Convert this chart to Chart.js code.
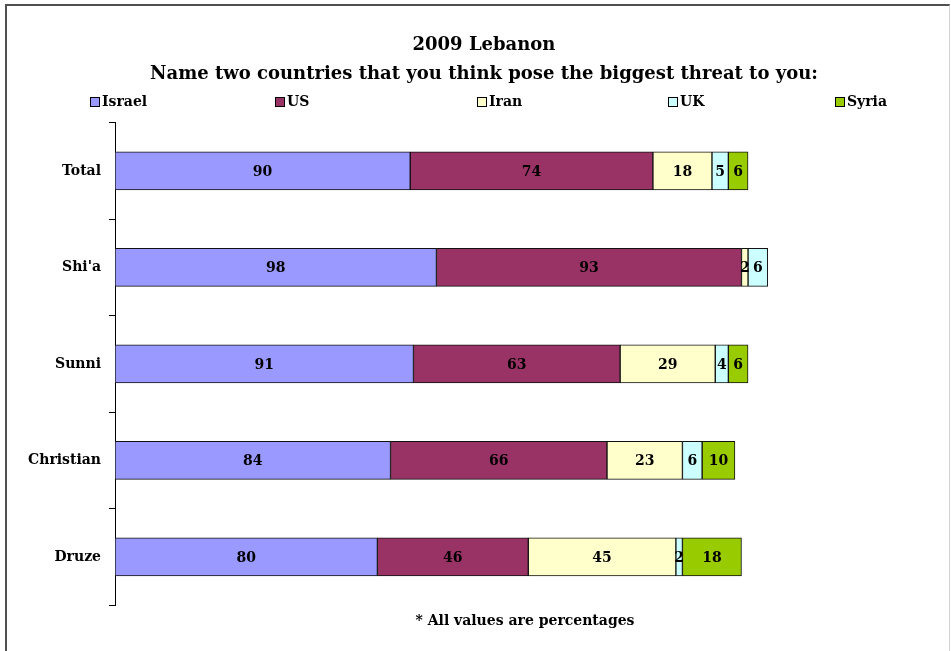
<!DOCTYPE html>
<html>
<head>
<meta charset="utf-8">
<script src="https://cdn.jsdelivr.net/npm/chart.js@4.4.1/dist/chart.umd.min.js"></script>
<style>
  body { margin: 0; background: #fff; }
  #frame {
    position: absolute; left: 5px; top: 4px;
    width: 942px; height: 647px;
    border-top: 2px solid #505050;
    border-left: 2px solid #505050;
    border-right: 1px solid #d2d2d2;
  }
  canvas { display: block; }
</style>
</head>
<body>
<div id="frame"><canvas id="threatChart" width="942" height="645"></canvas></div>
<script>
const groups = ["Total", "Shi'a", "Sunni", "Christian", "Druze"];
const israel = [90, 98, 91, 84, 80];
const us     = [74, 93, 63, 66, 46];
const iran   = [18, 2, 29, 23, 45];
const uk     = [5, 6, 4, 6, 2];
const syria  = [6, 0, 6, 10, 18];

const FONT = "'DejaVu Serif', 'Liberation Serif', serif";

// value text in the middle of each bar segment
const valueLabels = {
  id: 'valueLabels',
  afterDatasetsDraw(chart) {
    const ctx = chart.ctx;
    ctx.save();
    ctx.font = "bold 14px " + FONT;
    ctx.fillStyle = "#000";
    ctx.textAlign = "center";
    ctx.textBaseline = "middle";
    chart.data.datasets.forEach((ds, i) => {
      chart.getDatasetMeta(i).data.forEach((bar, j) => {
        const v = ds.data[j];
        if (!v) return;
        const p = bar.getCenterPoint();
        ctx.fillText(v, p.x, p.y + 1);
      });
    });
    ctx.restore();
  }
};

// spread-out legend row under the title
const legendRow = {
  id: 'legendRow',
  afterDraw(chart) {
    const ctx = chart.ctx;
    const xs = [83, 268, 470, 661, 828];
    const y = 96;
    ctx.save();
    ctx.font = "bold 14px " + FONT;
    ctx.textBaseline = "middle";
    chart.data.datasets.forEach((ds, i) => {
      const x = xs[i];
      ctx.fillStyle = ds.backgroundColor;
      ctx.fillRect(x, y - 5, 10, 10);
      ctx.strokeStyle = "#000";
      ctx.lineWidth = 1;
      ctx.strokeRect(x + 0.5, y - 4.5, 9, 9);
      ctx.fillStyle = "#000";
      ctx.fillText(ds.label, x + 12, y);
    });
    ctx.restore();
  }
};

const makeSet = (label, data, color) => ({
  label: label,
  data: data,
  backgroundColor: color,
  borderColor: "#111",
  borderWidth: 1,
  borderSkipped: false,
  barThickness: 38
});

new Chart(document.getElementById("threatChart"), {
  type: 'bar',
  data: {
    labels: groups,
    datasets: [
      makeSet("Israel", israel, "#9999FF"),
      makeSet("US", us, "#993366"),
      makeSet("Iran", iran, "#FFFFCC"),
      makeSet("UK", uk, "#CCFFFF"),
      makeSet("Syria", syria, "#99CC00")
    ]
  },
  options: {
    indexAxis: 'y',
    responsive: false,
    animation: false,
    layout: { padding: { left: 12, right: 0, top: 0, bottom: 0 } },
    plugins: {
      legend: { display: false },
      tooltip: { enabled: false },
      title: {
        display: true,
        text: ["2009 Lebanon", "Name two countries that you think pose the biggest threat to you:"],
        color: "#000",
        font: { family: FONT, size: 18, weight: 'bold', lineHeight: 1.6 },
        padding: { top: 25, bottom: 34 }
      },
      subtitle: {
        display: true,
        position: 'bottom',
        fullSize: false,
        text: "* All values are percentages",
        color: "#000",
        font: { family: FONT, size: 14, weight: 'bold' },
        padding: { top: 8, bottom: 21 }
      }
    },
    scales: {
      x: {
        display: false,
        stacked: true,
        min: 0,
        max: 250
      },
      y: {
        stacked: true,
        afterFit: (s) => { s.width = 96; },
        border: { display: true, color: "#000", width: 1 },
        grid: { drawOnChartArea: false, offset: true, tickLength: 6, color: "#000" },
        ticks: {
          color: "#000",
          padding: 8,
          font: { family: FONT, size: 14, weight: 'bold' }
        }
      },
      // empty strip on the right so the plot stops short of the frame
      y2: {
        position: 'right',
        grid: { display: false },
        border: { display: false },
        ticks: { display: false },
        afterFit: (s) => { s.width = 14; }
      }
    }
  },
  plugins: [valueLabels, legendRow]
});
</script>
</body>
</html>
